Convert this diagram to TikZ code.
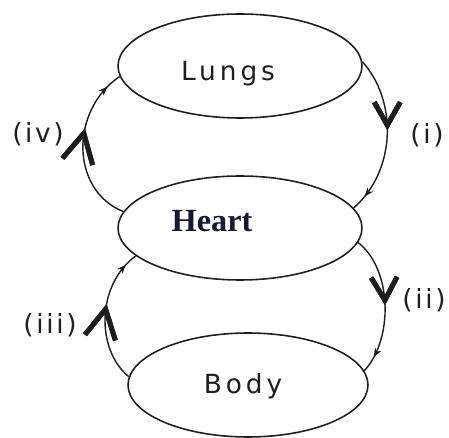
\documentclass[tikz,border=0pt]{standalone}
\usepackage{fontspec}
\usepackage{tikz}
\usetikzlibrary{arrows.meta,shapes.geometric,decorations.markings}
\newfontfamily\organfont[LetterSpace=15]{DejaVu Sans}
\newfontfamily\stepfont[LetterSpace=10]{DejaVu Sans}
\newfontfamily\heartfont{Liberation Serif}
\definecolor{inkgray}{RGB}{30,30,30}
\definecolor{heartink}{RGB}{22,24,52}
\tikzset{
  organ/.style={ellipse,draw=inkgray,line width=0.9pt,minimum width=4.88cm,minimum height=2.08cm,inner sep=0pt},
  organtext/.style={font=\organfont\fontsize{15}{18}\selectfont,text=inkgray},
  steplabel/.style={font=\stepfont\fontsize{15}{18}\selectfont,text=inkgray},
  flow/.style={draw=inkgray,line width=0.8pt},
  chevron/.style={postaction={decorate},decoration={markings,
    mark=at position #1 with {\arrow{Straight Barb[length=4.6mm,width=5.2mm,line width=2.8pt]}}}},
  bigchevron/.style={postaction={decorate},decoration={markings,
    mark=at position #1 with {\arrow{Straight Barb[length=5.8mm,width=6.2mm,line width=2.8pt]}}}},
  tip/.style={postaction={decorate},decoration={markings,
    mark=at position #1 with {\arrow{Stealth[length=1.7mm,width=1.3mm]}}}}
}

\begin{document}
\begin{tikzpicture}[x=0.02cm,y=-0.02cm]
  \useasboundingbox (0,0) rectangle (449,438);
  % the three organs
  \node[organ,label={[organtext,xshift=-0.24cm,yshift=-0.16cm]center:Lungs}] (lungs) at (240,66) {};
  \node[organ,label={[font=\heartfont\bfseries\fontsize{18.4}{20}\selectfont,text=heartink,xshift=-0.56cm,yshift=0.14cm]center:Heart}] (heart) at (240,228) {};
  \node[organ,minimum width=4.8cm,label={[organtext,xshift=-0.1cm,yshift=-0.02cm]center:Body}] (body) at (248,385) {};
  % circulation paths
  \draw[flow,chevron=0.46,tip=0.9] (lungs.2) .. controls (397,100) and (397,170) .. (heart.10);
  \draw[flow,chevron=0.5,tip=0.88] (heart.-7) .. controls (393,270) and (393,340) .. (body.7);
  \draw[flow,bigchevron=0.58,tip=0.9] (body.176) .. controls (96,350) and (96,285) .. (heart.195);
  \draw[flow,bigchevron=0.61,tip=0.9] (heart.172) .. controls (70,190) and (70,110) .. (lungs.185);
  % step labels
  \node[steplabel] (li) at (427,135) {(i)};
  \node[steplabel] (lii) at (424,300) {(ii)};
  \node[steplabel] (liii) at (50,325) {(iii)};
  \node[steplabel] (liv) at (38,134) {(iv)};
\end{tikzpicture}
\end{document}
